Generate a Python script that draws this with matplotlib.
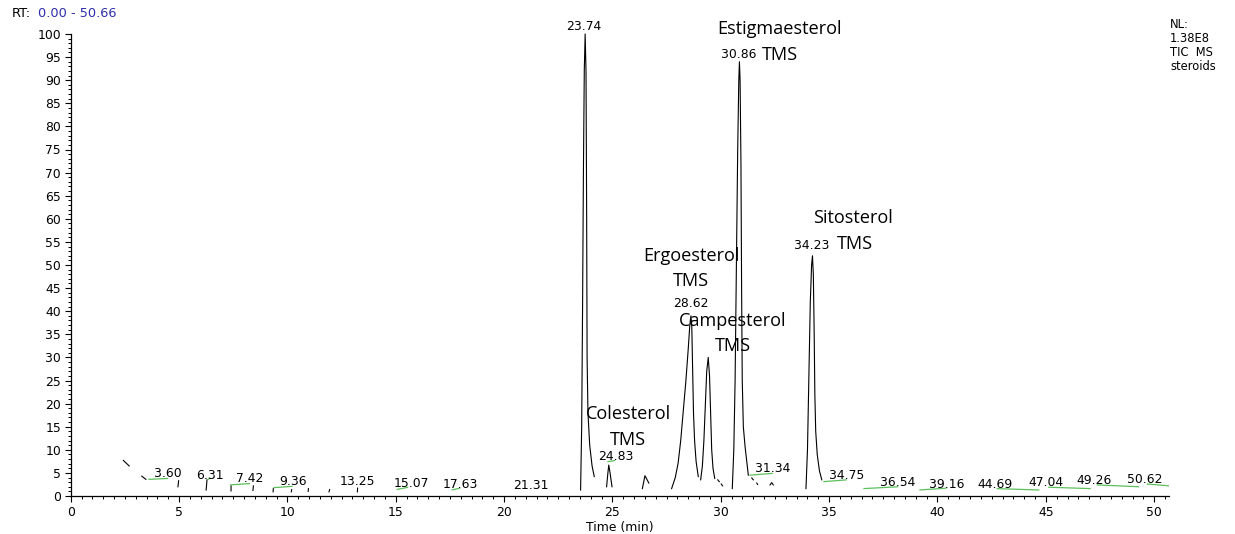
import numpy as np
import matplotlib
matplotlib.use("Agg")
import matplotlib.pyplot as plt
from matplotlib.ticker import MultipleLocator

nan = np.nan

# TIC trace (time in min, relative abundance in %); NaN separates the drawn pieces
trace_time = [
    2.43, 2.70, nan,
    3.28, 3.47, nan,
    4.98, 4.95, nan,
    6.29, 6.25, nan,
    7.40, 7.40, nan,
    8.43, 8.41, nan,
    9.35, 9.34, nan,
    10.20, 10.18, nan,
    10.97, 10.96, nan,
    11.95, 11.92, nan,
    13.24, 13.23, nan,
    23.53, 23.58, 23.62, 23.66, 23.70, 23.74, 23.78, 23.81, 23.83, 23.87, 23.95, 24.06, 24.16, nan,
    24.73, 24.79, 24.83, 24.89, 24.98, nan,
    26.38, 26.50, 26.68, nan,
    27.73, 27.90, 28.03, 28.15, 28.26, 28.39, 28.50, 28.57, 28.62, 28.66, 28.70, 28.74, 28.79, 28.86, 28.96, nan,
    29.07, 29.15, 29.22, 29.29, 29.35, 29.42, 29.48, 29.53, 29.58, 29.64, 29.72, nan,
    29.86, 29.93, nan,
    30.02, 30.08, nan,
    30.53, 30.60, 30.66, 30.72, 30.78, 30.83, 30.86, 30.89, 30.93, 30.96, 30.99, 31.04, 31.12, 31.27, nan,
    31.43, 31.50, nan,
    31.66, 31.70, nan,
    32.27, 32.35, 32.42, nan,
    33.93, 34.00, 34.06, 34.13, 34.19, 34.23, 34.27, 34.31, 34.34, 34.38, 34.45, 34.55, 34.66,
]
trace_abund = [
    7.7, 6.5, nan,
    4.3, 3.6, nan,
    3.3, 2.0, nan,
    3.5, 1.3, nan,
    2.2, 1.1, nan,
    2.2, 1.2, nan,
    1.6, 0.9, nan,
    1.4, 0.9, nan,
    1.6, 1.0, nan,
    1.4, 0.9, nan,
    1.7, 0.9, nan,
    1.3, 15, 40, 70, 92, 100, 92, 60, 30, 18, 11, 6.5, 4.2, nan,
    2.0, 5.0, 6.7, 5.0, 2.0, nan,
    1.6, 4.4, 2.8, nan,
    1.6, 4.0, 7.1, 12, 17.9, 25, 32, 37, 39, 37, 28, 18, 12, 7.5, 4.2, nan,
    3.5, 6.5, 12, 20, 27, 30, 26, 18, 10, 6.0, 3.8, nan,
    3.5, 3.1, nan,
    2.6, 2.2, nan,
    1.6, 10, 25, 50, 75, 90, 94, 90, 72, 45, 25, 15, 10.7, 4.5, nan,
    3.9, 3.5, nan,
    2.8, 2.5, nan,
    2.4, 2.9, 2.4, nan,
    1.6, 10, 25, 42, 50, 52, 48, 35, 22, 14, 9.0, 5.5, 3.5,
]

# integration baselines (start/end time, start/end abundance)
base_t0 = [3.58, 6.30, 7.35, 9.35, 15.04, 17.58, 24.76, 31.32, 34.73, 36.58, 39.16, 42.73, 45.11, 47.35, 49.65]
base_t1 = [4.50, 6.45, 8.28, 10.24, 15.58, 17.97, 25.12, 32.40, 35.81, 38.19, 40.42, 44.70, 47.07, 49.31, 50.70]
base_y0 = [3.6, 3.5, 2.4, 1.8, 1.4, 1.3, 7.4, 4.5, 3.1, 1.6, 1.3, 1.6, 1.9, 2.4, 2.6]
base_y1 = [3.8, 3.9, 2.7, 2.1, 1.9, 1.7, 7.7, 4.9, 3.5, 2.0, 1.7, 1.3, 1.6, 2.0, 2.2]

# retention-time labels
rt_labels = ["3.60", "6.31", "7.42", "9.36", "13.25", "15.07", "17.63", "21.31",
             "23.74", "24.83", "28.62", "30.86", "31.34", "34.23", "34.75",
             "36.54", "39.16", "44.69", "47.04", "49.26", "50.62"]
rt_label_x = [4.49, 6.41, 8.27, 10.24, 13.21, 15.70, 17.97, 21.24,
              23.69, 25.14, 28.60, 30.84, 32.39, 34.21, 35.81,
              38.18, 40.42, 42.65, 45.03, 47.25, 49.55]
rt_label_y = [4.06, 3.62, 3.10, 2.39, 2.39, 1.95, 1.67, 1.45,
              100.9, 7.81, 40.9, 94.9, 5.14, 53.4, 3.69,
              2.17, 1.67, 1.67, 2.17, 2.60, 2.89]

# compound names, one entry per text line
name_lines = ["Estigmaesterol", "TMS", "Ergoesterol", "TMS", "Campesterol", "TMS",
              "Sitosterol", "TMS", "Colesterol", "TMS"]
name_x = [32.73, 32.73, 28.63, 28.63, 30.56, 30.56, 36.12, 36.20, 25.72, 25.72]
name_y = [100.0, 94.4, 50.8, 45.4, 36.7, 31.3, 59.0, 53.5, 16.7, 11.1]

W, H = 1235, 534
fig = plt.figure(figsize=(W / 100, H / 100), dpi=100)
ax = fig.add_axes([70.7 / W, 38 / H, (1168.5 - 70.7) / W, 462 / H])

ax.plot(trace_time, trace_abund, color="black", lw=0.8, clip_on=False)
for t0, t1, y0, y1 in zip(base_t0, base_t1, base_y0, base_y1):
    ax.plot([t0, t1], [y0, y1], color="#5cbf5c", lw=0.9, solid_capstyle="butt")

num_font = dict(family="DejaVu Sans", size=8.9, color="black")
for s, x, y in zip(rt_labels, rt_label_x, rt_label_y):
    ax.text(x, y, s, ha="center", va="baseline", clip_on=False, **num_font)

for s, x, y in zip(name_lines, name_x, name_y):
    ax.text(x, y, s, ha="center", va="baseline", family="Open Sans",
            size=13.1, color="black", clip_on=False)

ax.set_xlim(0, 50.66)
ax.set_ylim(0, 100)
ax.xaxis.set_major_locator(MultipleLocator(5))
ax.xaxis.set_minor_locator(MultipleLocator(0.5))
ax.yaxis.set_major_locator(MultipleLocator(5))
ax.yaxis.set_minor_locator(MultipleLocator(1))
for side in ("top", "right"):
    ax.spines[side].set_visible(False)
for side in ("left", "bottom"):
    ax.spines[side].set_linewidth(0.9)
ax.tick_params(axis="both", which="major", direction="out", length=4.5, width=0.8,
               labelsize=8.9, colors="black")
ax.tick_params(axis="both", which="minor", direction="out", length=2.2, width=0.7)
ax.tick_params(axis="x", which="major", pad=3.0)
ax.tick_params(axis="y", which="major", pad=2.5)
ax.set_xlabel("Time (min)", fontsize=8.9, labelpad=1.5)

# header texts
fig.text(11.7 / W, 1 - 17.3 / H, "RT:", fontsize=9.3, color="black", va="baseline")
fig.text(38 / W, 1 - 17.3 / H, "0.00 - 50.66", fontsize=9.3, color="#2e2eaa", va="baseline")
for s, yb in zip(["NL:", "1.38E8", "TIC  MS", "steroids"], [28.3, 42.5, 56.5, 70.0]):
    fig.text(1170 / W, 1 - yb / H, s, fontsize=8.3, color="black", va="baseline")

fig.savefig("out.png", dpi=100)
